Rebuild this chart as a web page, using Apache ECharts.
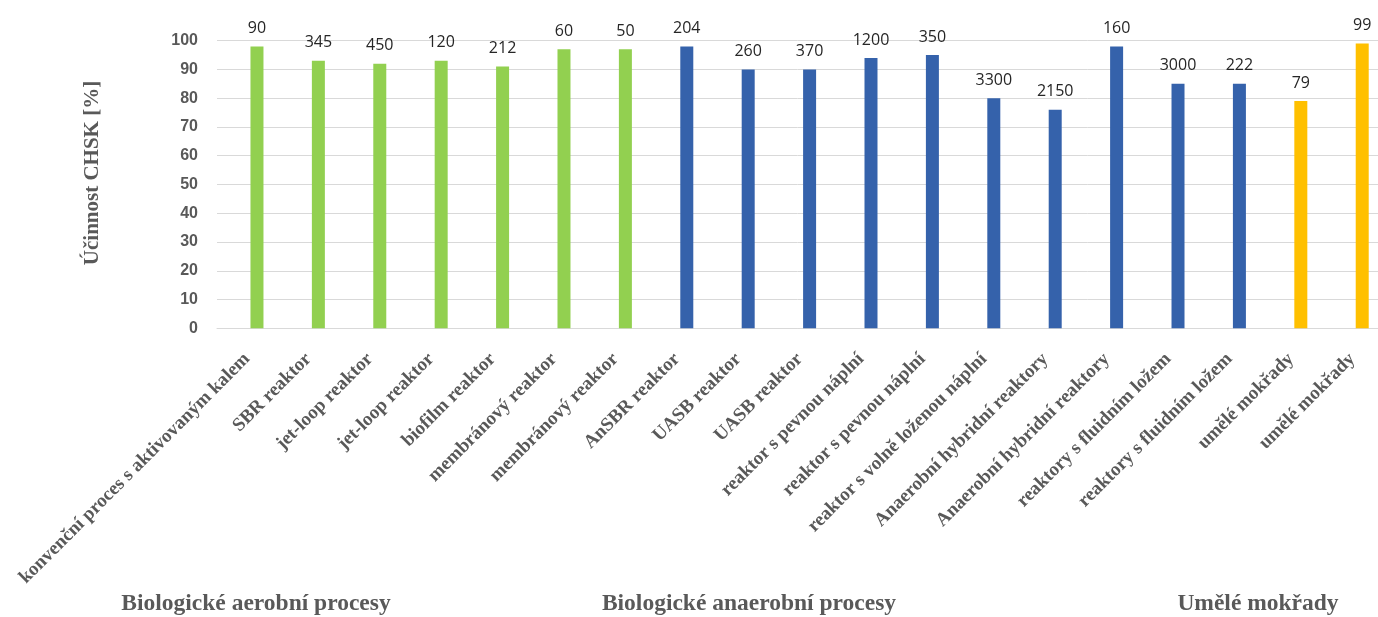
<!DOCTYPE html>
<html>
<head>
<meta charset="utf-8">
<script src="https://cdn.jsdelivr.net/npm/echarts@6/dist/echarts.min.js"></script>
<style>
  html, body { margin: 0; padding: 0; background: #ffffff; }
  #chart { width: 1378px; height: 617px; }
</style>
</head>
<body>
<div id="chart"></div>
<script>
// Reactor types (x axis categories)
const categories = [
  'konvenční proces s aktivovaným kalem',
  'SBR reaktor',
  'jet-loop reaktor',
  'jet-loop reaktor',
  'biofilm reaktor',
  'membránový reaktor',
  'membránový reaktor',
  'AnSBR reaktor',
  'UASB reaktor',
  'UASB reaktor',
  'reaktor s pevnou náplní',
  'reaktor s pevnou náplní',
  'reaktor s volně loženou náplní',
  'Anaerobní hybridní reaktory',
  'Anaerobní hybridní reaktory',
  'reaktory s fluidním ložem',
  'reaktory s fluidním ložem',
  'umělé mokřady',
  'umělé mokřady'
];

// COD removal efficiency [%]
const efficiency = [98, 93, 92, 93, 91, 97, 97, 98, 90, 90, 94, 95, 80, 76, 98, 85, 85, 79, 99];

// Numbers printed above the bars
const barNotes = ['90', '345', '450', '120', '212', '60', '50', '204', '260', '370',
                  '1200', '350', '3300', '2150', '160', '3000', '222', '79', '99'];

// Process groups and how many categories each covers
const groupNames = ['Biologické aerobní procesy', 'Biologické anaerobní procesy', 'Umělé mokřady'];
const groupSizes = [7, 10, 2];

const yTicks = [0, 10, 20, 30, 40, 50, 60, 70, 80, 90, 100];

const groupColors = ['#92D050', '#3562AB', '#FFC000'];
const groupTitleX = [256, 749, 1258];

// group index for each category
const groupOf = [];
groupSizes.forEach((n, g) => { for (let i = 0; i < n; i++) groupOf.push(g); });

// category positions along the x axis (one slot per reactor type);
// the right end of the axis runs past the last slot, so the final slot is cut at the edge
const slots = categories.map((_, i) => i);
const xMin = -0.651;
const xMax = 18.257;

const chart = echarts.init(document.getElementById('chart'), null, { renderer: 'canvas' });

const serif = '"Liberation Serif", "DejaVu Serif", serif';
const grey = '#595959';

chart.setOption({
  backgroundColor: '#ffffff',
  animation: false,
  grid: { left: 217, right: 0, top: 40.7, bottom: 288.7, containLabel: false },
  xAxis: {
    type: 'value',
    min: xMin,
    max: xMax,
    splitLine: { show: false },
    axisLine: { show: true, onZero: false, lineStyle: { color: '#d9d9d9', width: 1 } },
    axisTick: { show: false },
    axisLabel: {
      customValues: slots,
      rotate: 45,
      margin: 18,
      padding: [0, 14, 0, 0],
      fontFamily: serif,
      fontWeight: 'bold',
      fontSize: 19,
      color: grey,
      formatter: v => categories[Math.round(v)]
    }
  },
  yAxis: {
    type: 'value',
    min: yTicks[0],
    max: yTicks[yTicks.length - 1],
    interval: 10,
    axisLine: { show: false },
    axisTick: { show: false },
    splitLine: { lineStyle: { color: '#d9d9d9', width: 1 } },
    axisLabel: {
      margin: 19,
      fontFamily: '"Liberation Sans", Arial, sans-serif',
      fontWeight: 'bold',
      fontSize: 16,
      color: grey
    }
  },
  series: [{
    type: 'bar',
    barWidth: 13,
    data: efficiency.map((v, i) => ({
      value: [slots[i], v],
      itemStyle: { color: groupColors[groupOf[i]] }
    })),
    label: {
      show: true,
      position: 'top',
      distance: 10,
      fontFamily: '"Open Sans", "Noto Sans", sans-serif',
      fontSize: 16,
      color: '#262626',
      formatter: p => barNotes[p.dataIndex]
    }
  }],
  graphic: [
    {
      type: 'text',
      x: 93,
      y: 173,
      rotation: Math.PI / 2,
      style: {
        text: 'Účinnost CHSK [%]',
        font: 'bold 21px ' + serif,
        fill: grey,
        align: 'center',
        verticalAlign: 'middle'
      }
    }
  ].concat(groupNames.map((name, g) => ({
    type: 'text',
    x: groupTitleX[g],
    y: 604,
    style: {
      text: name,
      font: 'bold 23.5px ' + serif,
      fill: grey,
      align: 'center',
      verticalAlign: 'middle'
    }
  })))
});
</script>
</body>
</html>
